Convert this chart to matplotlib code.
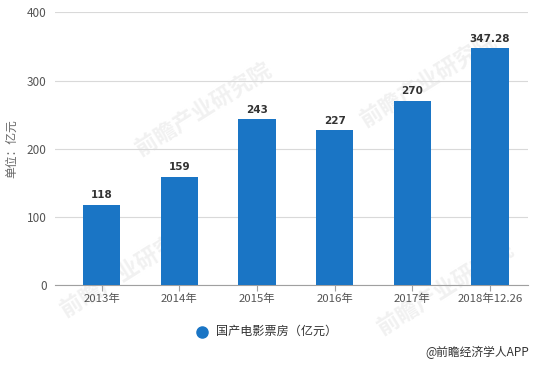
import matplotlib
matplotlib.use("Agg")
import matplotlib.pyplot as plt

plt.rcParams['font.family'] = ['Noto Sans CJK SC', 'DejaVu Sans']

# data
years = ['2013年', '2014年', '2015年', '2016年', '2017年', '2018年12.26']
box_office = [118, 159, 243, 227, 270, 347.28]
value_labels = ['118', '159', '243', '227', '270', '347.28']

bar_color = '#1a75c5'

fig = plt.figure(figsize=(5.36, 3.65), dpi=100)
ax = fig.add_axes([0.1026, 0.219, 0.8824, 0.747])
ax.set_zorder(2)

# faint watermark in background
for (wx, wy) in [(0.38, 0.70), (0.80, 0.78), (0.24, 0.26), (0.83, 0.21)]:
    fig.text(wx, wy, '前瞻产业研究院', fontsize=16, color='#f1f1f1', rotation=32,
             ha='center', va='center', fontweight='bold', zorder=0)

x = list(range(len(years)))
ax.bar(x, box_office, width=0.48, color=bar_color, zorder=3)

for xi, v, lab in zip(x, box_office, value_labels):
    ax.text(xi, v + 7, lab, ha='center', va='bottom', fontsize=7.5,
            fontweight='bold', color='#333333', family='DejaVu Sans', zorder=4)

ax.set_xlim(-0.6, 5.49)
ax.set_ylim(0, 400)
ax.set_yticks([0, 100, 200, 300, 400])
ax.set_xticks(x)
ax.set_xticklabels(years)
ax.grid(axis='y', color='#d9d9d9', linewidth=0.8, zorder=0)
ax.set_axisbelow(True)
ax.patch.set_alpha(0)

for s in ['top', 'right', 'left']:
    ax.spines[s].set_visible(False)
ax.spines['bottom'].set_color('#a0a0a0')
ax.tick_params(axis='y', length=0, labelsize=8.5, labelcolor='#555555', pad=6)
ax.tick_params(axis='x', length=4, color='#a0a0a0', labelsize=8.2,
               labelcolor='#555555', pad=2)

fig.text(0.022, 0.592, '单位：亿元', rotation=90, ha='center', va='center',
         fontsize=8.5, color='#666666')

# legend
fig.lines.append(plt.Line2D([201.7 / 536], [1 - 331.7 / 365], marker='o',
                            markersize=8, color=bar_color, linestyle='none',
                            transform=fig.transFigure))
fig.text(216 / 536, 1 - 331.7 / 365, '国产电影票房（亿元）', ha='left', va='center',
         fontsize=8.7, color='#333333')

fig.text(0.988, 1 - 352 / 365, '@前瞻经济学人APP', ha='right', va='center',
         fontsize=8.5, color='#333333')

fig.savefig('out.png', dpi=100)
